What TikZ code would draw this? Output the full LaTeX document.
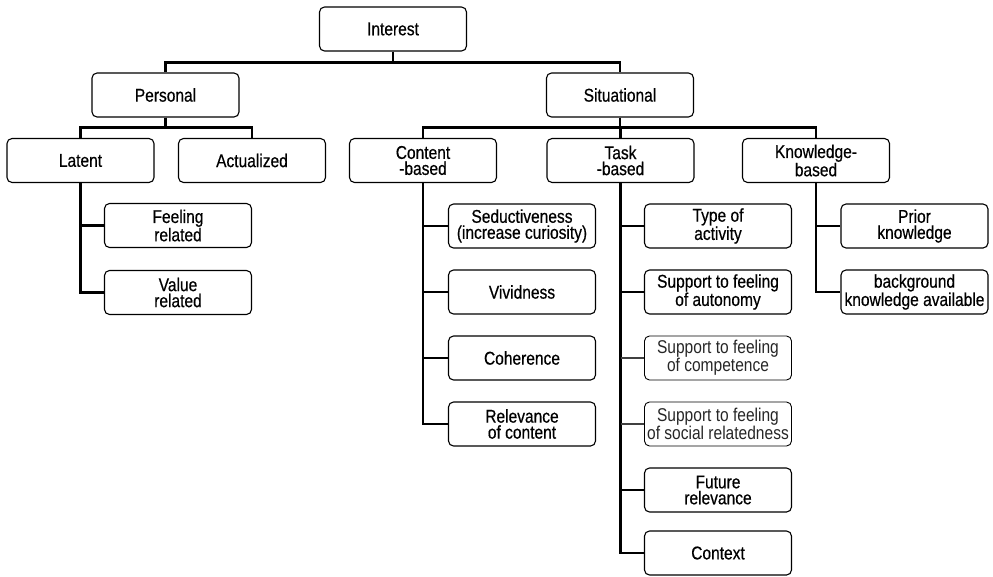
\documentclass[tikz,border=0pt]{standalone}
\usepackage{fontspec}
\setmainfont[FakeStretch=0.84,FakeBold=0.5]{Liberation Sans}
\newfontfamily\litefont[FakeStretch=0.84]{Liberation Sans}
\begin{document}
\begin{tikzpicture}[x=1pt,y=-1pt,
  box/.style={draw, rounded corners=5pt, line width=1.1pt, minimum width=147pt,
    minimum height=44pt, align=center, inner sep=0pt,
    font=\fontsize{18.5}{16}\selectfont},
  litebox/.style={box, line width=0.9pt, text=black!85,
    font=\litefont\fontsize{18.5}{16}\selectfont},
  conn/.style={line width=2.8pt},
  liteconn/.style={line width=1.6pt, draw=black!75}]
\useasboundingbox (0,0) rectangle (993,576);

% level 0
\node[box] (int) at (393,29) {Interest};
% level 1
\node[box] (pers) at (165.5,95) {Personal};
\node[box] (sit) at (620,95) {Situational};
% level 2
\node[box] (lat) at (80.5,160.5) {Latent};
\node[box] (act) at (252,160.5) {Actualized};
\node[box] (cont) at (423,160.5) {Content\\-based};
\node[box] (task) at (620.5,160.5) {Task\\-based};
\node[box] (know) at (816,160.5) {Knowledge-\\based};
% latent children
\node[box] (feel) at (178,225.5) {Feeling\\related};
\node[box] (val) at (178,292.5) {Value\\related};
% content children
\node[box] (sed) at (522,226) {Seductiveness\\(increase curiosity)};
\node[box] (viv) at (522,292) {Vividness};
\node[box] (coh) at (522,358) {Coherence};
\node[box] (rel) at (522,424) {Relevance\\of content};
% task children
\node[box] (type) at (718,226) {Type of\\activity};
\node[box] (auto) at (718,292) {Support to feeling\\of autonomy};
\node[litebox] (comp) at (718,358) {Support to feeling\\ of competence};
\node[litebox] (soc) at (718,424) {Support to feeling\\of social relatedness};
\node[box] (fut) at (718,490) {Future\\relevance};
\node[box] (ctx) at (718,553) {Context};
% knowledge children
\node[box] (prior) at (914.5,226) {Prior\\knowledge};
\node[box] (bg) at (914.5,292) {background\\knowledge available};

% connectors level 0 -> 1
\draw[conn] (int.south) -- ++(0,11) -| (pers.north);
\draw[conn] (int.south) -- ++(0,11) -| (sit.north);
% personal -> latent, actualized
\draw[conn] (pers.south) -- ++(0,10) -| (lat.north);
\draw[conn] (pers.south) -- ++(0,10) -| (act.north);
% situational -> content, task, knowledge
\draw[conn] (sit.south) -- ++(0,10) -| (cont.north);
\draw[conn] (sit.south) -- ++(0,10) -| (task.north);
\draw[conn] (sit.south) -- ++(0,10) -| (know.north);
% latent children
\draw[conn] (lat.south) |- (val.west);
\draw[conn] (lat.south |- feel.west) -- (feel.west);
% content children
\draw[conn] (cont.south) |- (rel.west);
\draw[conn] (cont.south |- sed.west) -- (sed.west);
\draw[conn] (cont.south |- viv.west) -- (viv.west);
\draw[conn] (cont.south |- coh.west) -- (coh.west);
% task children
\draw[conn] (task.south) |- (ctx.west);
\draw[conn] (task.south |- type.west) -- (type.west);
\draw[conn] (task.south |- auto.west) -- (auto.west);
\draw[liteconn] (task.south |- comp.west) -- (comp.west);
\draw[liteconn] (task.south |- soc.west) -- (soc.west);
\draw[conn] (task.south |- fut.west) -- (fut.west);
% knowledge children
\draw[conn] (know.south) |- (bg.west);
\draw[conn] (know.south |- prior.west) -- (prior.west);
\end{tikzpicture}
\end{document}
